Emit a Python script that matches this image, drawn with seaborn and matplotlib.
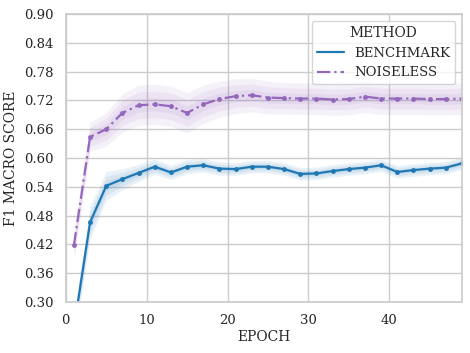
"""
F1 macro score per epoch: BENCHMARK vs NOISELESS, with shaded spread bands.
"""
import numpy as np
import pandas as pd
import matplotlib
matplotlib.use("Agg")
import matplotlib.pyplot as plt
from matplotlib.lines import Line2D
import seaborn as sns

sns.set_theme(style="whitegrid")
plt.rcParams['font.family'] = ['DejaVu Serif']

# ── data ────────────────────────────────────────────────────
epochs = list(range(1, 50, 2))

benchmark = [0.245, 0.466, 0.542, 0.556, 0.569, 0.582, 0.570, 0.582, 0.585, 0.578,
             0.577, 0.582, 0.582, 0.577, 0.567, 0.568, 0.573, 0.577, 0.580, 0.585,
             0.571, 0.575, 0.578, 0.580, 0.589]
noiseless = [0.418, 0.644, 0.660, 0.694, 0.710, 0.712, 0.708, 0.694, 0.712, 0.723,
             0.729, 0.731, 0.726, 0.725, 0.724, 0.724, 0.722, 0.723, 0.728, 0.724,
             0.724, 0.724, 0.723, 0.723, 0.724]

# half-width of the outer shaded band
benchmark_spread = [0.03, 0.035, 0.03, 0.022, 0.018, 0.016, 0.015, 0.015, 0.014, 0.014,
                    0.013, 0.013, 0.013, 0.013, 0.013, 0.013, 0.013, 0.013, 0.013, 0.013,
                    0.013, 0.013, 0.013, 0.013, 0.013]
noiseless_spread = [0.03, 0.03, 0.035, 0.04, 0.042, 0.042, 0.042, 0.042, 0.04, 0.038,
                    0.036, 0.035, 0.034, 0.033, 0.033, 0.033, 0.033, 0.033, 0.033, 0.033,
                    0.033, 0.033, 0.033, 0.033, 0.033]

methods = ['BENCHMARK', 'NOISELESS']
colors = {'BENCHMARK': '#1f77b4', 'NOISELESS': '#9467bd'}
dashes = {'BENCHMARK': '', 'NOISELESS': (6, 1.8, 1, 1.8)}

df = pd.DataFrame({
    'EPOCH': epochs * 2,
    'F1': benchmark + noiseless,
    'METHOD': ['BENCHMARK'] * len(epochs) + ['NOISELESS'] * len(epochs),
})

fig = plt.figure(figsize=(4.7, 3.53), dpi=100)
ax = fig.add_axes([0.140, 0.1445, 0.843, 0.8155])

# layered spread bands
for m, vals, spr in [('BENCHMARK', benchmark, benchmark_spread),
                     ('NOISELESS', noiseless, noiseless_spread)]:
    v = np.array(vals); s = np.array(spr)
    for frac in (1.0, 0.66, 0.33):
        ax.fill_between(epochs, v - s * frac, v + s * frac,
                        color=colors[m], alpha=0.09, linewidth=0)

sns.lineplot(data=df, x='EPOCH', y='F1', hue='METHOD', style='METHOD',
             palette=colors, dashes=dashes, markers={'BENCHMARK': 'o', 'NOISELESS': 'o'},
             markersize=3.5, markeredgewidth=0, linewidth=1.6, legend=False, ax=ax)

ax.set_xlim(0, 49)
ax.set_ylim(0.30, 0.90)
ax.set_yticks(np.arange(0.30, 0.901, 0.06))
ax.set_yticklabels([f'{t:.2f}' for t in np.arange(0.30, 0.901, 0.06)])
ax.tick_params(labelsize=9.5, pad=3)
ax.set_xlabel('EPOCH', fontsize=10, labelpad=2)
ax.set_ylabel('F1 MACRO SCORE', fontsize=10, labelpad=4)

handles = [Line2D([], [], color=colors['BENCHMARK'], lw=1.6),
           Line2D([], [], color=colors['NOISELESS'], lw=1.6, dashes=dashes['NOISELESS'])]
ax.legend(handles, methods, title='METHOD', loc='upper right', fontsize=9.5,
          title_fontsize=10, frameon=True)

fig.savefig('out.png', dpi=100)
